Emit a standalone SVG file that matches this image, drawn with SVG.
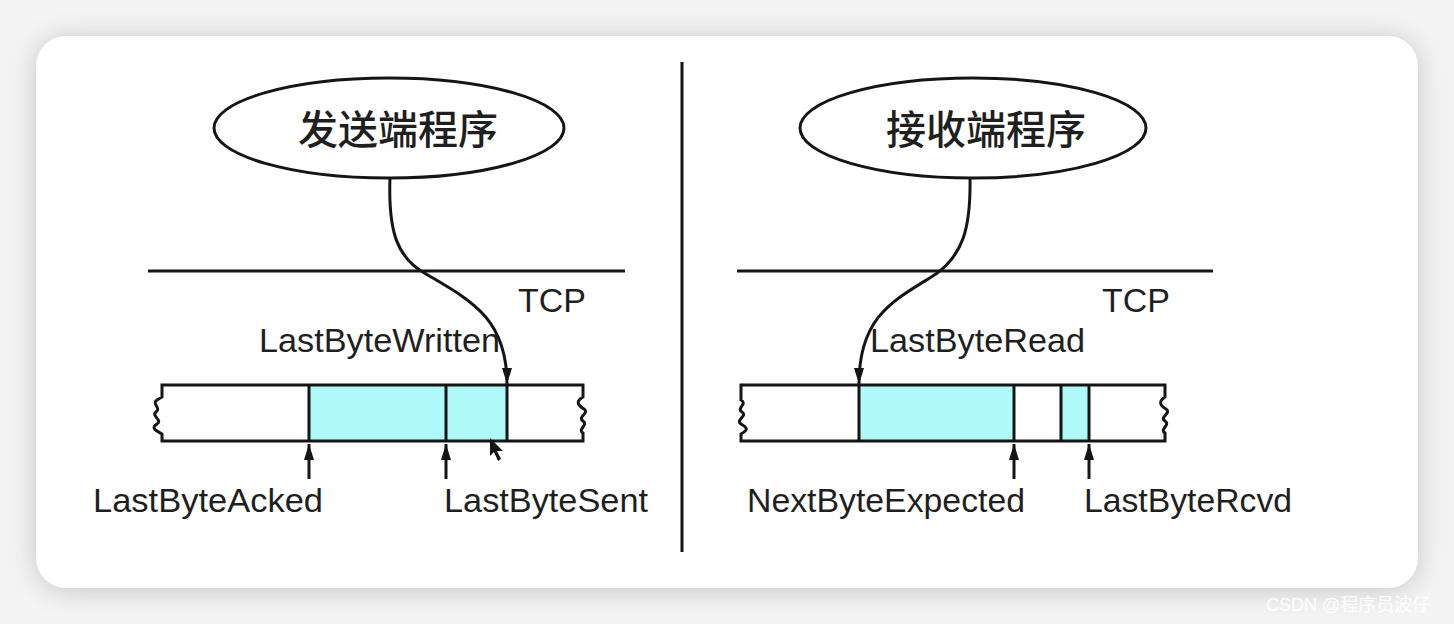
<svg xmlns="http://www.w3.org/2000/svg" width="1454" height="624" viewBox="0 0 1454 624">
<defs>
<style>
.ln{stroke:#151515;stroke-width:3;fill:none}
.sh{fill:#aff9f9;stroke:none}
.lbl{font-family:"Liberation Sans",Arial,sans-serif;font-size:34px;fill:#1f1f1f}
.cjk{font-family:"Noto Sans CJK SC","Liberation Serif",serif;font-size:40px;font-weight:500;fill:#1f1f1f}
.ell{fill:#fff;stroke:#151515;stroke-width:3}
</style>
<marker id="ah2" viewBox="0 0 16 10" refX="16" refY="5" markerWidth="16" markerHeight="10" markerUnits="userSpaceOnUse" orient="auto">
<path d="M0,0 L16,5 L0,10 Z" fill="#151515"/>
</marker>
<filter id="shadow" x="-10%" y="-10%" width="120%" height="120%">
<feGaussianBlur stdDeviation="14"/>
</filter>
</defs>
<rect x="0" y="0" width="1454" height="624" fill="#f4f4f4"/>
<rect x="36" y="38" width="1382" height="552" rx="30" fill="#c4c4c4" filter="url(#shadow)"/>
<rect x="36" y="36" width="1382" height="552" rx="30" fill="#ffffff"/>

<line x1="682" y1="62" x2="682" y2="552" class="ln"/>

<g id="sender">
<ellipse cx="389" cy="128" rx="175" ry="50" class="ell"/>
<text x="398" y="144" class="cjk" text-anchor="middle">发送端程序</text>
</g>
<g id="receiver">
<ellipse cx="973" cy="128" rx="173" ry="50" class="ell"/>
<text x="986" y="144" class="cjk" text-anchor="middle">接收端程序</text>
</g>

<g id="tcp-left">
<line x1="148" y1="271" x2="625" y2="271" class="ln"/>
<text x="518" y="312" class="lbl">TCP</text>
</g>
<g id="tcp-right">
<line x1="737" y1="271" x2="1213" y2="271" class="ln"/>
<text x="1102" y="312" class="lbl">TCP</text>
</g>

<g id="send-buffer">
<rect x="309" y="385" width="198" height="56" class="sh"/>
<path d="M162,385 H583 V397 C576,401 577,405 584,409 C590,413 577,417 583,421 C589,425 577,429 583,433 V441 H162 V434 C155,430 151,428 157,424 C163,420 151,416 156,412 C162,408 151,404 157,400 L162,397 Z" class="ln"/>
<line x1="309" y1="385" x2="309" y2="441" class="ln"/>
<line x1="446" y1="385" x2="446" y2="441" class="ln"/>
<line x1="507" y1="385" x2="507" y2="441" class="ln"/>
<path d="M490,438 L490,456 L494,452 L498,461 L501,459 L497,451 L503,451 Z" fill="#151515"/>
</g>

<g id="recv-buffer">
<rect x="859" y="385" width="155" height="56" class="sh"/>
<rect x="1061" y="385" width="28" height="56" class="sh"/>
<path d="M741,385 H1165 V397 C1159,401 1159,405 1166,409 C1172,413 1159,417 1165,421 C1171,425 1159,429 1165,433 V441 H741 V434 C748,430 748,428 741,424 C735,420 748,416 742,412 C736,408 748,404 741,400 Z" class="ln"/>
<line x1="859" y1="385" x2="859" y2="441" class="ln"/>
<line x1="1014" y1="385" x2="1014" y2="441" class="ln"/>
<line x1="1061" y1="385" x2="1061" y2="441" class="ln"/>
<line x1="1089" y1="385" x2="1089" y2="441" class="ln"/>
</g>

<g id="connectors">
<path d="M390,177 C388,232 397,258 426,274 C470,300 507,318 507,384" class="ln" marker-end="url(#ah2)"/>
<path d="M970,177 C971,230 962,255 936,274 C895,300 859,315 859,384" class="ln" marker-end="url(#ah2)"/>
<line x1="309" y1="479" x2="309" y2="444" class="ln" marker-end="url(#ah2)"/>
<line x1="446" y1="479" x2="446" y2="444" class="ln" marker-end="url(#ah2)"/>
<line x1="1014" y1="479" x2="1014" y2="444" class="ln" marker-end="url(#ah2)"/>
<line x1="1089" y1="479" x2="1089" y2="444" class="ln" marker-end="url(#ah2)"/>
</g>

<g id="labels">
<text x="259" y="352" class="lbl" textLength="241" lengthAdjust="spacingAndGlyphs">LastByteWritten</text>
<text x="870" y="352" class="lbl" textLength="215" lengthAdjust="spacingAndGlyphs">LastByteRead</text>
<text x="93" y="512" class="lbl" textLength="230" lengthAdjust="spacingAndGlyphs">LastByteAcked</text>
<text x="444" y="512" class="lbl" textLength="204" lengthAdjust="spacingAndGlyphs">LastByteSent</text>
<text x="747" y="512" class="lbl" textLength="278" lengthAdjust="spacingAndGlyphs">NextByteExpected</text>
<text x="1084" y="512" class="lbl" textLength="208" lengthAdjust="spacingAndGlyphs">LastByteRcvd</text>
</g>

<text x="1266" y="611" font-family="'Liberation Sans','Noto Sans CJK SC',sans-serif" font-size="18" fill="#ffffff" fill-opacity="0.85">CSDN @程序员波仔</text>
</svg>
